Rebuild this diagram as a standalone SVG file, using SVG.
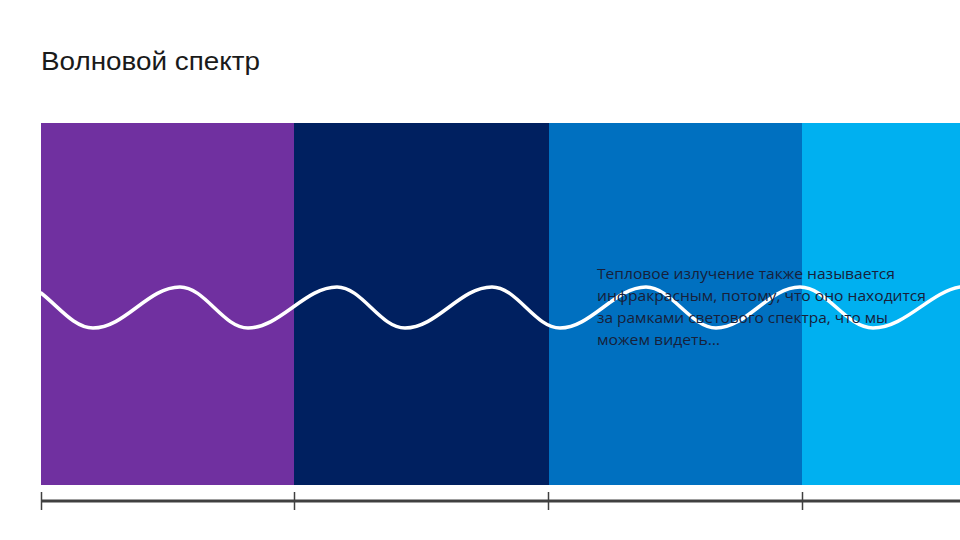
<svg xmlns="http://www.w3.org/2000/svg" width="960" height="540" viewBox="0 0 960 540">
<style>
.title{font-family:"Liberation Sans",Arial,sans-serif;font-size:25px;fill:#1a1a1a}
.body{font-family:"Open Sans","Liberation Sans",sans-serif;font-size:14px;fill:#17203a}
.tick{stroke:#404040;stroke-width:1.5}
</style>
<rect width="960" height="540" fill="#ffffff"/>
<text class="title" x="41" y="70" textLength="219" lengthAdjust="spacingAndGlyphs">Волновой спектр</text>
<g id="bands">
<rect id="band-violet" x="41" y="123" width="253" height="362" fill="#7030A0"/>
<rect id="band-navy" x="294" y="123" width="255" height="362" fill="#002060"/>
<rect id="band-blue" x="549" y="123" width="253" height="362" fill="#0070C0"/>
<rect id="band-lightblue" x="802" y="123" width="158" height="362" fill="#00B0F0"/>
</g>
<path id="wave" fill="none" stroke="#ffffff" stroke-width="3.5" stroke-linecap="round" d="M41,293 C58,306 74,328 93,328 C125,328 148,287 180,287 C205,287 223,328 248,328 C280,328 305,287 337,287 C362,287 380,328 405,328 C437,328 460,287 492,287 C517,287 535,328 560,328 C591,328 615,287 646,287 C671,287 691,328 716,328 C747,328 769,287 800,287 C827,287 846,328 873,328 C905,328 930,292 960,287"/>
<g id="caption">
<text class="body" x="597" y="279" textLength="298" lengthAdjust="spacingAndGlyphs">Тепловое излучение также называется</text>
<text class="body" x="597" y="301" textLength="329" lengthAdjust="spacingAndGlyphs">инфракрасным, потому, что оно находится</text>
<text class="body" x="597" y="323" textLength="291" lengthAdjust="spacingAndGlyphs">за рамками светового спектра, что мы</text>
<text class="body" x="597" y="345" textLength="123" lengthAdjust="spacingAndGlyphs">можем видеть…</text>
</g>
<g id="axis">
<line x1="41" y1="501" x2="960" y2="501" stroke="#404040" stroke-width="3"/>
<line class="tick" x1="41.5" y1="492" x2="41.5" y2="510"/>
<line class="tick" x1="294.5" y1="492" x2="294.5" y2="510"/>
<line class="tick" x1="548.5" y1="492" x2="548.5" y2="510"/>
<line class="tick" x1="802.5" y1="492" x2="802.5" y2="510"/>
</g>
</svg>
